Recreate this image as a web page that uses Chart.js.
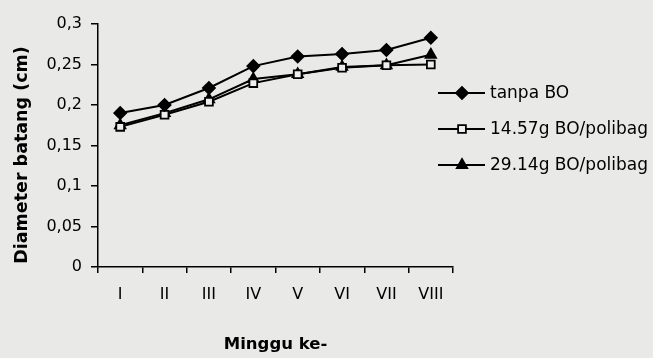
<!DOCTYPE html>
<html>
<head>
<meta charset="utf-8">
<script src="https://cdn.jsdelivr.net/npm/chart.js@4/dist/chart.umd.min.js"></script>
<style>
  html, body { margin: 0; padding: 0; background: #e9e9e8; }
  #wrap { width: 653px; height: 358px; }
</style>
</head>
<body>
<div id="wrap"><canvas id="c" width="653" height="358"></canvas></div>
<script>
// Weekly stem diameter (cm) per organic-matter treatment
const weeks = ['I', 'II', 'III', 'IV', 'V', 'VI', 'VII', 'VIII'];
const seriesNames = ['tanpa BO', '14.57g BO/polibag', '29.14g BO/polibag'];
const tanpaBO = [0.190, 0.200, 0.221, 0.248, 0.260, 0.263, 0.268, 0.283];
const bo1457 = [0.173, 0.188, 0.204, 0.227, 0.238, 0.246, 0.249, 0.250];
const bo2914 = [0.175, 0.190, 0.207, 0.232, 0.238, 0.247, 0.249, 0.262];
const yTicks = { min: 0, max: 0.3, step: 0.05 };
const yTitle = 'Diameter batang (cm)';
const xTitle = 'Minggu ke-';

const FONT = "'DejaVu Sans', sans-serif";

const pointStyles = ['rectRot', 'rect', 'triangle'];
const pointFills = ['#000', '#eeeeee', '#000'];
const pointSizes = [6, 5.5, 6];

const datasets = [tanpaBO, bo1457, bo2914].map((vals, i) => ({
  label: seriesNames[i],
  data: vals,
  borderColor: '#000',
  borderWidth: 2,
  pointStyle: pointStyles[i],
  pointRadius: pointSizes[i],
  pointBackgroundColor: pointFills[i],
  pointBorderColor: '#000',
  pointBorderWidth: 1.8,
  tension: 0,
  fill: false
}));

// Paper background
const paper = {
  id: 'paper',
  beforeDraw(chart) {
    const ctx = chart.ctx;
    ctx.save();
    ctx.fillStyle = '#e9e9e8';
    ctx.fillRect(0, 0, chart.width, chart.height);
    ctx.restore();
  }
};

// Vertical axis title, set a little below the plot's mid-height
const sideTitle = {
  id: 'sideTitle',
  afterDraw(chart) {
    const ctx = chart.ctx;
    ctx.save();
    ctx.translate(22, 155);
    ctx.rotate(-Math.PI / 2);
    ctx.fillStyle = '#000';
    ctx.font = 'bold 17.5px ' + FONT;
    ctx.textAlign = 'center';
    ctx.textBaseline = 'middle';
    ctx.fillText(yTitle, 0, 0);
    ctx.restore();
  }
};

// Legend on the right: short line with the series marker, then the name
const sideLegend = {
  id: 'sideLegend',
  afterDraw(chart) {
    const ctx = chart.ctx;
    const rows = [93, 129, 165];
    chart.data.datasets.forEach((ds, i) => {
      const y = rows[i];
      ctx.save();
      ctx.strokeStyle = '#000';
      ctx.lineWidth = 2;
      ctx.beginPath();
      ctx.moveTo(438, y);
      ctx.lineTo(485, y);
      ctx.stroke();
      ctx.fillStyle = ds.pointBackgroundColor;
      ctx.lineWidth = 1.8;
      Chart.helpers.drawPoint(ctx, {
        pointStyle: ds.pointStyle,
        radius: ds.pointRadius,
        borderWidth: 1.8,
        rotation: 0
      }, 462, y);
      ctx.fillStyle = '#000';
      ctx.font = '17px ' + FONT;
      ctx.textBaseline = 'middle';
      ctx.textAlign = 'left';
      ctx.fillText(ds.label, 490, y + 1);
      ctx.restore();
    });
  }
};

new Chart(document.getElementById('c'), {
  type: 'line',
  data: { labels: weeks, datasets },
  options: {
    responsive: false,
    animation: false,
    layout: { padding: { top: 24, right: 200, bottom: 0, left: 0 } },
    plugins: { legend: { display: false }, tooltip: { enabled: false } },
    scales: {
      x: {
        offset: true,
        afterFit(s) { s.height = 91; },
        grid: { offset: true, drawOnChartArea: false, drawTicks: true, tickLength: 6, color: '#000', lineWidth: 1.5 },
        border: { color: '#000', width: 1.5 },
        ticks: { color: '#000', font: { family: FONT, size: 16 }, padding: 12, maxRotation: 0 },
        title: {
          display: true, text: xTitle, color: '#000',
          font: { family: FONT, size: 16.5, weight: 'bold', lineHeight: 1 },
          padding: { top: 0, bottom: 5 }
        }
      },
      y: {
        min: yTicks.min,
        max: yTicks.max,
        afterFit(s) { s.width = 98; },
        grid: { drawOnChartArea: false, drawTicks: true, tickLength: 7, color: '#000', lineWidth: 1.5 },
        border: { color: '#000', width: 1.5 },
        ticks: {
          stepSize: yTicks.step,
          color: '#000',
          font: { family: FONT, size: 16 },
          padding: 9,
          callback: v => String(Number(v.toFixed(2))).replace('.', ',')
        }
      }
    }
  },
  plugins: [paper, sideTitle, sideLegend]
});
</script>
</body>
</html>
